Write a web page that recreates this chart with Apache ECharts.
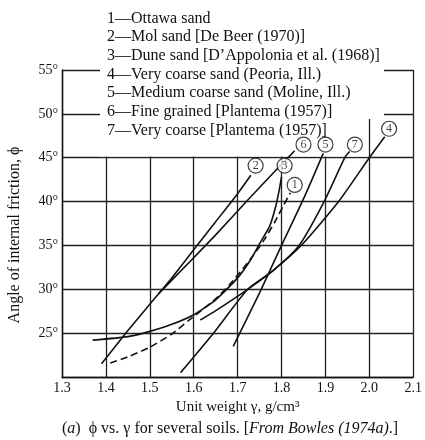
<!DOCTYPE html>
<html>
<head>
<meta charset="utf-8">
<style>
html, body { margin: 0; padding: 0; background: #fff; }
#chart { width: 425px; height: 440px; }
</style>
<script src="https://cdn.jsdelivr.net/npm/echarts@6/dist/echarts.min.js"></script>
</head>
<body>
<div id="chart"></div>
<script>
// curves: [unit weight g/cm3, friction angle deg]
var ottawaSand = [[1.41, 21.6], [1.45, 22.3], [1.5, 23.4], [1.55, 24.9], [1.59, 26.5], [1.65, 28.9], [1.69, 31], [1.73, 33.5], [1.76, 35.6], [1.785, 37.7], [1.805, 39.6], [1.82, 41]];
var molSand = [[1.39, 21.5], [1.45, 25.3], [1.5, 28.3], [1.55, 31.3], [1.6, 34.5], [1.65, 37.7], [1.7, 40.9], [1.73, 43]];
var duneSand = [[1.37, 24.2], [1.45, 24.6], [1.5, 25.2], [1.55, 26], [1.6, 27.1], [1.65, 28.8], [1.7, 31.3], [1.73, 33.4], [1.75, 35.2], [1.773, 37.2], [1.787, 39.5], [1.795, 41.4], [1.8, 42.8]];
var peoriaSand = [[1.615, 26.5], [1.645, 27.4], [1.723, 30], [1.78, 32.1], [1.847, 35.1], [1.93, 40], [2.0, 45], [2.035, 47.4]];
var molineSand = [[1.69, 23.5], [1.75, 29.6], [1.8, 35], [1.85, 40.3], [1.895, 45.5]];
var fineGrained = [[1.52, 29.5], [1.6, 33.6], [1.65, 36.2], [1.72, 40], [1.78, 43.2], [1.83, 45.8]];
var veryCoarse = [[1.57, 20.5], [1.645, 25], [1.723, 30], [1.78, 32.1], [1.84, 35], [1.897, 40], [1.944, 45], [1.955, 45.7]];

// circled curve numbers
var curveTags = [[1.83, 41.9, '1'], [1.741, 44.1, '2'], [1.807, 44.1, '3'], [2.045, 48.3, '4'], [1.9, 46.5, '5'], [1.85, 46.5, '6'], [1.967, 46.5, '7']];

var legendLines = [
    '1\u2014Ottawa sand',
    '2\u2014Mol sand [De Beer (1970)]',
    '3\u2014Dune sand [D\u2019Appolonia et al. (1968)]',
    '4\u2014Very coarse sand (Peoria, Ill.)',
    '5\u2014Medium coarse sand (Moline, Ill.)',
    '6\u2014Fine grained [Plantema (1957)]',
    '7\u2014Very coarse [Plantema (1957)]'
];

var serif = '"Liberation Serif", "DejaVu Serif", serif';

function curve(name, data, dashed) {
    return {
        name: name,
        type: 'line',
        data: data,
        smooth: 0.2,
        showSymbol: false,
        z: 3,
        lineStyle: { color: '#111', width: 1.6, type: dashed ? [7, 4] : 'solid' }
    };
}

var myChart = echarts.init(document.getElementById('chart'));
var option = {
    animation: false,
    backgroundColor: '#fff',
    grid: { left: 62, right: 8, top: 70, bottom: 63 },
    xAxis: {
        type: 'value',
        min: 1.3,
        max: 2.1,
        interval: 0.1,
        name: 'Unit weight \u03b3, g/cm\u00b3',
        nameLocation: 'middle',
        nameGap: 23,
        nameTextStyle: { fontFamily: serif, fontSize: 15, color: '#111' },
        axisLine: { show: true, lineStyle: { color: '#111', width: 1.4 } },
        axisTick: { show: false },
        axisLabel: {
            fontFamily: serif, fontSize: 14, color: '#111', margin: 4,
            formatter: function (v) { return v.toFixed(1); }
        },
        splitLine: { show: true, lineStyle: { color: '#222', width: 1.3 } }
    },
    yAxis: {
        type: 'value',
        min: 20,
        max: 55,
        interval: 5,
        axisLine: { show: true, lineStyle: { color: '#111', width: 1.4 } },
        axisTick: { show: false },
        axisLabel: {
            fontFamily: serif, fontSize: 14, color: '#111', margin: 4,
            formatter: function (v) { return v === 20 ? '' : v + '\u00b0'; }
        },
        splitLine: { show: true, lineStyle: { color: '#222', width: 1.3 } }
    },
    graphic: [
        // white panel behind the key, hides the grid there
        { type: 'rect', z: 1, shape: { x: 100, y: 0, width: 284, height: 119 }, style: { fill: '#fff' } },
        { type: 'rect', z: 1, shape: { x: 100, y: 119, width: 268, height: 37.5 }, style: { fill: '#fff' } },
        {
            type: 'text', z: 10, left: 107, top: 9,
            style: {
                text: legendLines.join('\n'),
                font: '16px ' + serif,
                lineHeight: 18.7,
                fill: '#111'
            }
        },
        {
            type: 'text', z: 10, x: 15, y: 235, rotation: Math.PI / 2,
            style: {
                text: 'Angle of internal friction, \u03d5',
                font: '16px ' + serif,
                fill: '#111',
                align: 'center',
                verticalAlign: 'middle'
            }
        },
        {
            type: 'text', z: 10, left: 62, top: 421,
            style: {
                text: '({i|a})  \u03d5 vs. \u03b3 for several soils. [{i|From Bowles (1974a)}.]',
                font: '16px ' + serif,
                fill: '#111',
                rich: {
                    i: { fontFamily: serif, fontSize: 16, fontStyle: 'italic', fill: '#111' }
                }
            }
        }
    ],
    series: [
        curve('1', ottawaSand, true),
        curve('2', molSand, false),
        curve('3', duneSand, false),
        curve('4', peoriaSand, false),
        curve('5', molineSand, false),
        curve('6', fineGrained, false),
        curve('7', veryCoarse, false),
        {
            type: 'scatter',
            data: curveTags,
            symbol: 'circle',
            symbolSize: 15,
            z: 5,
            itemStyle: { color: '#fff', borderColor: '#111', borderWidth: 1.2 },
            label: {
                show: true,
                position: 'inside',
                fontFamily: serif,
                fontSize: 12,
                color: '#111',
                formatter: function (p) { return p.value[2]; }
            }
        }
    ]
};
option && myChart.setOption(option);
</script>
</body>
</html>
